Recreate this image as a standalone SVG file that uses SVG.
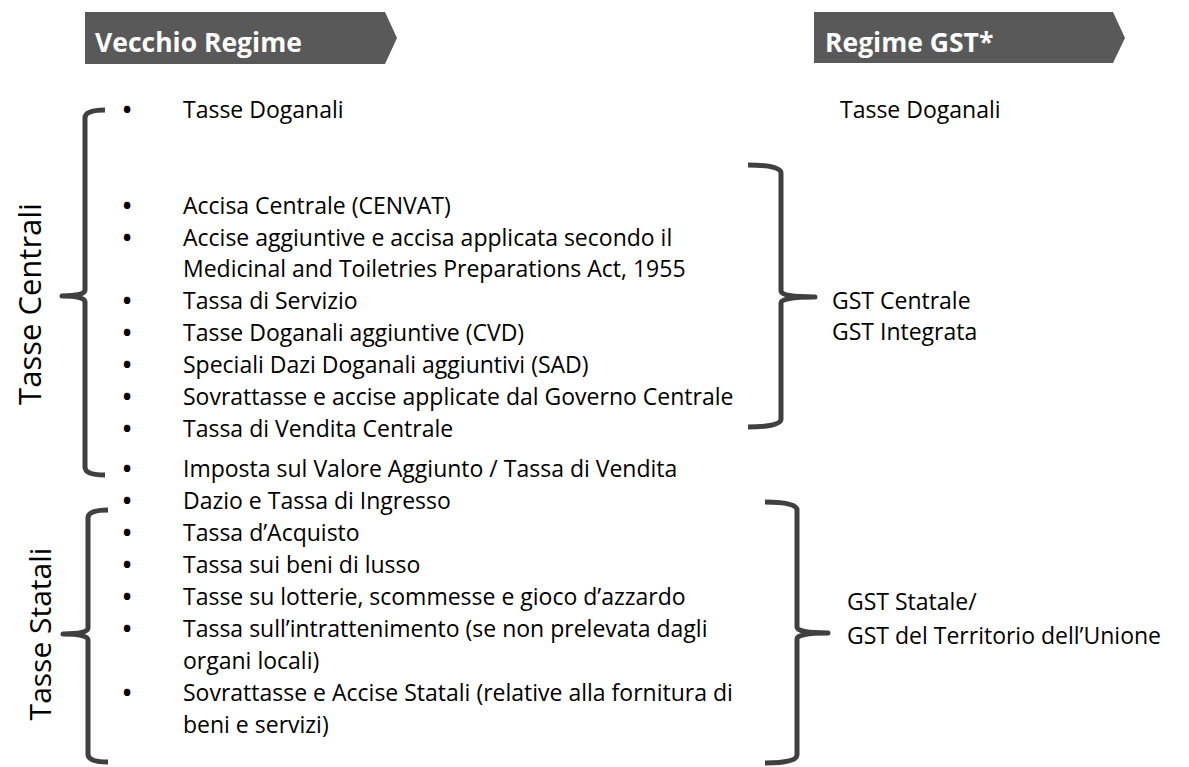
<svg xmlns="http://www.w3.org/2000/svg" width="1189" height="767" viewBox="0 0 1189 767">
<style>
.hdr{fill:#595959}
.ht{font-family:"Open Sans","Liberation Sans",sans-serif;font-weight:bold;font-size:26.5px;fill:#ffffff}
.t{font-family:"Open Sans","Liberation Sans",sans-serif;font-size:23px;fill:#000000}
.b{font-weight:bold;text-anchor:middle}
.big{font-family:"Open Sans","Liberation Sans",sans-serif;font-size:31px;fill:#000000}
.br{fill:none;stroke:#404040;stroke-width:5;stroke-linejoin:round}
</style>
<rect width="1189" height="767" fill="#ffffff"/>
<g id="hdr-old">
<polygon class="hdr" points="85,12 385,12 397,38 385,64 85,64"/>
<text class="ht" x="95" y="52">Vecchio Regime</text>
</g>
<g id="hdr-new">
<polygon class="hdr" points="814,12 1113,12 1125,38 1113,63 814,63"/>
<text class="ht" x="825" y="52">Regime GST*</text>
</g>
<g id="label-centrali">
<text class="big" transform="translate(41,304) rotate(-90)" text-anchor="middle">Tasse Centrali</text>
</g>
<g id="label-statali">
<text class="big" style="font-size:30px" transform="translate(51,634) rotate(-90)" text-anchor="middle">Tasse Statali</text>
</g>
<g id="braces">
<path class="br" d="M105,110 Q85,110 85,118 L85,290 Q85,296 62,296 Q85,296 85,302 L85,467 Q85,475 105,475"/>
<path class="br" d="M108,510 Q88,510 88,518 L88,628 Q88,634 63,634 Q88,634 88,640 L88,754 Q88,762 108,762"/>
<path class="br" d="M748,165 Q781,165 781,173 L781,291 Q781,297 815,297 Q781,297 781,303 L781,419 Q781,427 748,427"/>
<path class="br" d="M765,502 Q797,502 797,510 L797,627 Q797,633 828,633 Q797,633 797,639 L797,755 Q797,763 765,763"/>
</g>
<g id="list-centrali">
<text class="t" y="118"><tspan class="b" x="127">•</tspan><tspan x="183">Tasse Doganali</tspan></text>
<text class="t" y="214"><tspan class="b" x="127">•</tspan><tspan x="183">Accisa Centrale (CENVAT)</tspan></text>
<text class="t" y="246"><tspan class="b" x="127">•</tspan><tspan x="183">Accise aggiuntive e accisa applicata secondo il</tspan></text>
<text class="t" x="183" y="277">Medicinal and Toiletries Preparations Act, 1955</text>
<text class="t" y="309"><tspan class="b" x="127">•</tspan><tspan x="183">Tassa di Servizio</tspan></text>
<text class="t" y="341"><tspan class="b" x="127">•</tspan><tspan x="183">Tasse Doganali aggiuntive (CVD)</tspan></text>
<text class="t" y="373"><tspan class="b" x="127">•</tspan><tspan x="183">Speciali Dazi Doganali aggiuntivi (SAD)</tspan></text>
<text class="t" y="405"><tspan class="b" x="127">•</tspan><tspan x="183">Sovrattasse e accise applicate dal Governo Centrale</tspan></text>
<text class="t" y="437"><tspan class="b" x="127">•</tspan><tspan x="183">Tassa di Vendita Centrale</tspan></text>
</g>
<g id="list-statali">
<text class="t" y="477"><tspan class="b" x="127">•</tspan><tspan x="183">Imposta sul Valore Aggiunto / Tassa di Vendita</tspan></text>
<text class="t" y="509"><tspan class="b" x="127">•</tspan><tspan x="183">Dazio e Tassa di Ingresso</tspan></text>
<text class="t" y="541"><tspan class="b" x="127">•</tspan><tspan x="183">Tassa d’Acquisto</tspan></text>
<text class="t" y="573"><tspan class="b" x="127">•</tspan><tspan x="183">Tassa sui beni di lusso</tspan></text>
<text class="t" y="605"><tspan class="b" x="127">•</tspan><tspan x="183">Tasse su lotterie, scommesse e gioco d’azzardo</tspan></text>
<text class="t" y="637"><tspan class="b" x="127">•</tspan><tspan x="183">Tassa sull’intrattenimento (se non prelevata dagli</tspan></text>
<text class="t" x="183" y="669">organi locali)</text>
<text class="t" y="701"><tspan class="b" x="127">•</tspan><tspan x="183">Sovrattasse e Accise Statali (relative alla fornitura di</tspan></text>
<text class="t" x="183" y="733">beni e servizi)</text>
</g>
<g id="gst">
<text class="t" x="840" y="118">Tasse Doganali</text>
<text class="t" x="832" y="309">GST Centrale</text>
<text class="t" x="832" y="340">GST Integrata</text>
<text class="t" x="847" y="610">GST Statale/</text>
<text class="t" x="847" y="644">GST del Territorio dell’Unione</text>
</g>
</svg>
